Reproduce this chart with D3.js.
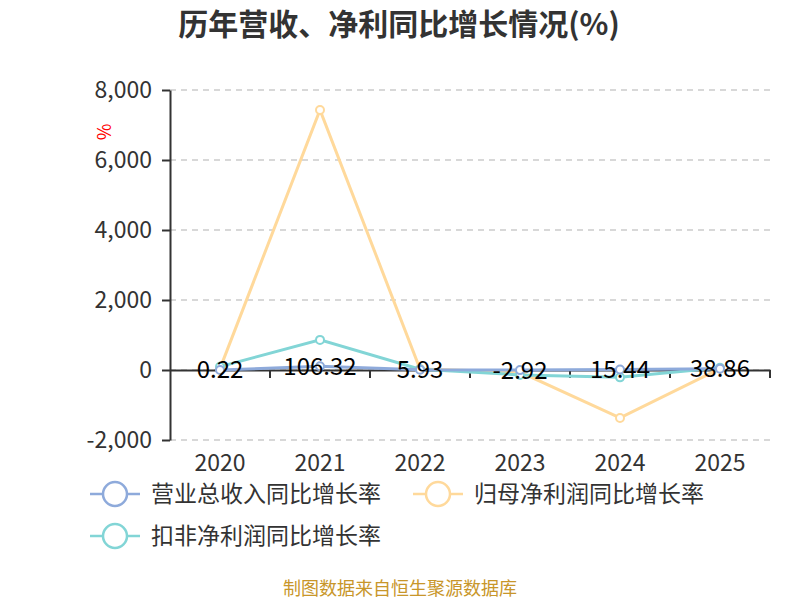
<!DOCTYPE html>
<html>
<head>
<meta charset="utf-8">
<script src="https://cdn.jsdelivr.net/npm/d3@7"></script>
<style>
body{margin:0;background:#fff;}
text{font-family:"Noto Sans CJK SC","Noto Sans",sans-serif;}
</style>
</head>
<body>
<div class="chart"></div>
<script>
// 年度
const years = ['2020','2021','2022','2023','2024','2025'];
// 營業總收入同比增長率
const revenueGrowth = [0.22, 106.32, 5.93, -2.92, 15.44, 38.86];
// 歸母淨利潤同比增長率
const netProfitGrowth = [40, 7430, 30, -60, -1370, 40];
// 扣非淨利潤同比增長率
const deductedGrowth = [95, 860, 20, -140, -210, 65];
const yTicks = [-2000, 0, 2000, 4000, 6000, 8000];

const seriesNames = ['营业总收入同比增长率','归母净利润同比增长率','扣非净利润同比增长率'];
const seriesColors = ['#8eaadb','#ffd99b','#82d5d6'];

const svg_width = 800, svg_height = 600;
const margin = {top:90, right:30, bottom:160, left:170};
const chart_width = svg_width - margin.left - margin.right;
const chart_height = svg_height - margin.top - margin.bottom;
const numFont = '"Noto Sans","Noto Sans CJK SC",sans-serif';

const svg = d3.select('.chart').append('svg')
    .attr('width', svg_width).attr('height', svg_height);
const g = svg.append('g').attr('transform', `translate(${margin.left},${margin.top})`);

const xScale = d3.scaleBand().domain(years).range([0, chart_width]);
const yScale = d3.scaleLinear().domain([-2000, 8000]).range([chart_height, 0]);

//格線
g.selectAll('.grid').data(yTicks).enter().append('line')
    .attr('x1', 0).attr('x2', chart_width)
    .attr('y1', d => yScale(d)).attr('y2', d => yScale(d))
    .style('stroke', '#ccc').style('stroke-dasharray', '6,5').style('stroke-width', 1.5);

//y軸
const yAxis = d3.axisLeft(yScale).tickValues(yTicks)
    .tickFormat(d => d3.format(',')(d).replace('−', '-'))
    .tickSizeInner(8).tickSizeOuter(0);
const yAxisDraw = g.append('g').call(yAxis);
yAxisDraw.select('.domain').style('stroke', '#333').style('stroke-width', 2);
yAxisDraw.selectAll('.tick line').style('stroke', '#333').style('stroke-width', 2);
yAxisDraw.selectAll('text').style('font-size', '23px').style('fill', '#333')
    .attr('x', -18).attr('font-family', numFont);

//x軸(零線)
const xAxis = d3.axisBottom(xScale).tickSize(0);
const xAxisDraw = g.append('g').attr('transform', `translate(0,${yScale(0)})`).call(xAxis);
xAxisDraw.select('.domain').style('stroke', '#333').style('stroke-width', 2);
xAxisDraw.selectAll('text').style('font-size', '23px').style('fill', '#333')
    .attr('font-family', numFont)
    .attr('y', chart_height - yScale(0) + 23).attr('dy', '0.35em');
// 分類邊界刻度
g.selectAll('.xtick').data(years).enter().append('line')
    .attr('x1', (d,i) => (i+1) * xScale.bandwidth()).attr('x2', (d,i) => (i+1) * xScale.bandwidth())
    .attr('y1', yScale(0)).attr('y2', yScale(0) + 8)
    .style('stroke', '#333').style('stroke-width', 2);

// % 單位
g.append('text').text('%')
    .attr('transform', `translate(${105 - margin.left},${132 - margin.top}) rotate(-90)`)
    .attr('text-anchor', 'middle').attr('dy', '0.35em')
    .style('fill', 'red').style('font-size', '18px');

//折線
const allSeries = [revenueGrowth, netProfitGrowth, deductedGrowth];
const line = d3.line()
    .x((d,i) => xScale(years[i]) + xScale.bandwidth()/2)
    .y(d => yScale(d));
[1, 2, 0].forEach(si => {
    const data = allSeries[si];
    g.append('path').datum(data).attr('d', line)
        .style('fill', 'none').style('stroke', seriesColors[si]).style('stroke-width', 3);
    g.selectAll('.pt' + si).data(data).enter().append('circle')
        .attr('cx', (d,i) => xScale(years[i]) + xScale.bandwidth()/2)
        .attr('cy', d => yScale(d)).attr('r', 4)
        .style('fill', '#fff').style('stroke', seriesColors[si]).style('stroke-width', 2);
});

//數值標籤
g.selectAll('.label').data(revenueGrowth).enter().append('text')
    .attr('x', (d,i) => xScale(years[i]) + xScale.bandwidth()/2)
    .attr('y', d => yScale(d)).attr('dy', '0.35em')
    .attr('text-anchor', 'middle')
    .attr('font-family', numFont)
    .style('font-size', '24px').style('fill', '#000')
    .text(d => d);

//標題
svg.append('text').text('历年营收、净利同比增长情况(%)')
    .attr('x', 399).attr('y', 24).attr('dy', '0.35em').attr('text-anchor', 'middle')
    .style('font-size', '30px').style('font-weight', 'bold').style('fill', '#333');

//圖例
const legendPos = [{x:90, y:494}, {x:413, y:494}, {x:90, y:536}];
const legend = svg.selectAll('.legend').data(seriesNames).enter().append('g')
    .attr('transform', (d,i) => `translate(${legendPos[i].x},${legendPos[i].y})`);
legend.append('line').attr('x1', 0).attr('x2', 50).attr('y1', 0).attr('y2', 0)
    .style('stroke', (d,i) => seriesColors[i]).style('stroke-width', 2.5);
legend.append('circle').attr('cx', 25).attr('cy', 0).attr('r', 12)
    .style('fill', '#fff').style('stroke', (d,i) => seriesColors[i]).style('stroke-width', 2.5);
legend.append('text').text(d => d).attr('x', 61).attr('dy', '0.35em')
    .style('font-size', '23px').style('fill', '#333');

//資料來源
svg.append('text').text('制图数据来自恒生聚源数据库')
    .attr('x', 400).attr('y', 589).attr('dy', '0.35em').attr('text-anchor', 'middle')
    .style('font-size', '18px').style('fill', '#c8962a');
</script>
</body>
</html>
